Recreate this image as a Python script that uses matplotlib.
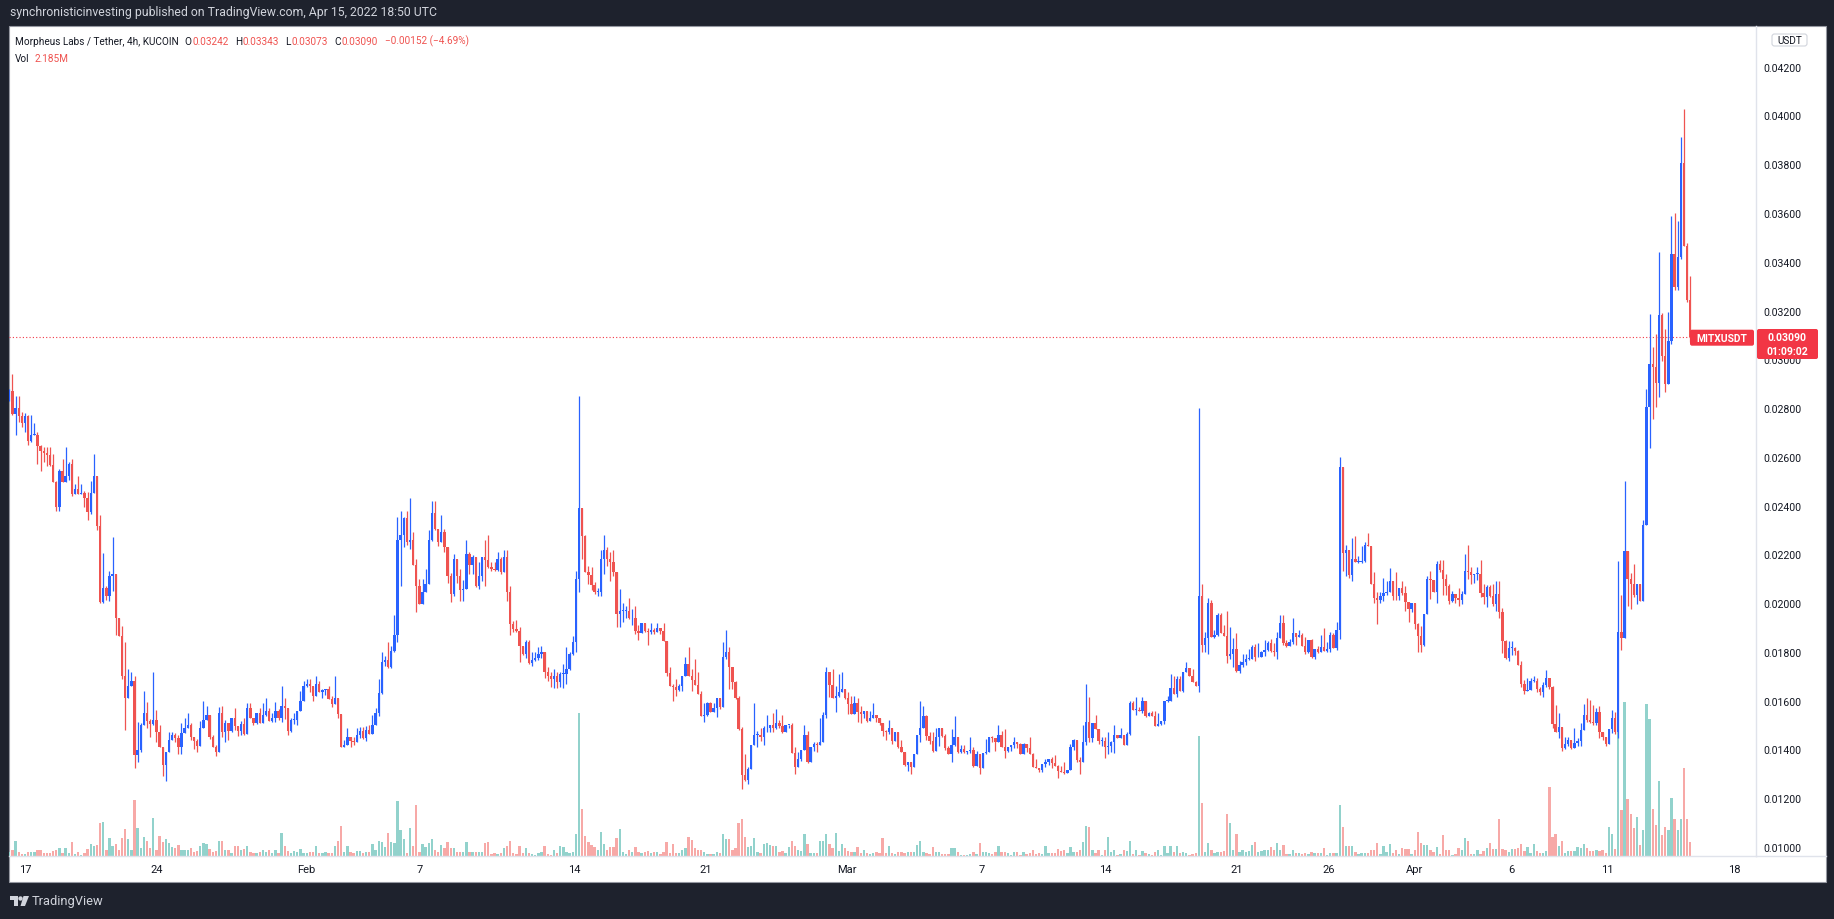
import numpy as np
import pandas as pd
import matplotlib
matplotlib.use('Agg')
import matplotlib.pyplot as plt
import matplotlib.dates as mdates
from matplotlib.patches import Rectangle, FancyBboxPatch, Polygon, Circle
from matplotlib.lines import Line2D
from matplotlib.transforms import IdentityTransform

plt.rcParams['font.family'] = ['Roboto', 'DejaVu Sans']

# MITX/USDT 4h candles (KuCoin), first bar Jan 16 2022 04:00 UTC
# prices in 1e-5 USDT, volume in millions
start = '2022-01-16 04:00'
first_open = 2837

close = [
    2870, 2776, 2799, 2769, 2739, 2769, 2666, 2690, 2690, 2646, 2625, 2616, 2608, 2567, 2498, 2396, 2543, 2498, 2520, 2571,
    2448, 2468, 2448, 2452, 2430, 2375, 2452, 2523, 2318, 2006, 2061, 2028, 2113, 2119, 1938, 1867, 1700, 1610, 1659, 1680,
    1377, 1399, 1500, 1550, 1518, 1504, 1522, 1470, 1409, 1336, 1391, 1440, 1459, 1446, 1409, 1467, 1487, 1500, 1450, 1436,
    1415, 1487, 1522, 1541, 1450, 1409, 1391, 1550,
    1470, 1509, 1477, 1528, 1498, 1477, 1504, 1464, 1569, 1528, 1507, 1548, 1507, 1541, 1556, 1518, 1528, 1556, 1528, 1577,
    1569, 1477, 1522, 1522, 1556, 1599, 1659, 1669, 1660, 1618, 1669, 1637, 1645, 1647, 1607, 1587, 1610, 1546, 1409, 1418,
    1450, 1436, 1429, 1459, 1477, 1446, 1481, 1463, 1500, 1550, 1632, 1760, 1765, 1737, 1805, 1870, 2259, 2279, 2348, 2250,
    2260, 2157, 2069, 1997, 2047, 2079, 2259,
    2369, 2304, 2250, 2291, 2229, 2110, 2038, 2181, 2113, 2055, 2058, 2202, 2157, 2188, 2069, 2110, 2188, 2178, 2147, 2140,
    2137, 2181, 2129, 2188, 2047, 1915, 1894, 1887, 1826, 1792, 1839, 1755, 1768, 1774, 1792, 1798, 1716, 1700, 1689, 1700,
    1678, 1709, 1709, 1730, 1792, 1839, 2099, 2389, 2277, 2129, 2115, 2075, 2047, 2047, 2181, 2218, 2181, 2167, 2129, 1956,
    1967, 1967, 1967, 1938, 1938, 1887, 1878,
    1917, 1887, 1880, 1890, 1880, 1897, 1887, 1846, 1714, 1659, 1655, 1645, 1659, 1700, 1750, 1703, 1686, 1664, 1627, 1539,
    1541, 1591, 1555, 1571, 1611, 1573, 1778, 1798, 1737, 1678, 1610, 1484, 1295, 1276, 1320, 1418, 1459, 1459, 1450, 1487,
    1487, 1500, 1487, 1508, 1497, 1470, 1500, 1500, 1385, 1327, 1361, 1399, 1459, 1347, 1409, 1422, 1418, 1430, 1541, 1716,
    1664, 1610, 1621, 1637, 1648, 1610, 1586,
    1545, 1590, 1555, 1545, 1558, 1518, 1528, 1541, 1528, 1508, 1477, 1473, 1487, 1436, 1470, 1409, 1388, 1336, 1347, 1327,
    1381, 1459, 1487, 1539, 1457, 1436, 1395, 1450, 1487, 1457, 1405, 1380, 1418, 1450, 1388, 1402, 1388, 1395, 1399, 1331,
    1381, 1322, 1385, 1391, 1450, 1446, 1429, 1459, 1409, 1395, 1410, 1418, 1429, 1422, 1381, 1422, 1405, 1381, 1327, 1322,
    1317, 1340, 1350, 1361, 1344, 1333, 1313,
    1309, 1303, 1317, 1409, 1440, 1358, 1347, 1429, 1511, 1446, 1508, 1484, 1436, 1436, 1409, 1416, 1429, 1459, 1446, 1459,
    1419, 1463, 1591, 1563, 1563, 1559, 1600, 1536, 1549, 1539, 1497, 1504, 1518, 1600, 1600, 1651, 1627, 1689, 1641, 1716,
    1733, 1703, 1678, 1662, 2028, 1828, 1859, 2001, 1860, 1869, 1951, 1878, 1867, 1782, 1792, 1812, 1723, 1746, 1757, 1771,
    1771, 1819, 1778, 1778, 1801, 1809, 1836, 1805,
    1801, 1856, 1919, 1837, 1823, 1839, 1878, 1860, 1869, 1826, 1801, 1850, 1778, 1812, 1801, 1819, 1805, 1812, 1869, 1815,
    1891, 2557, 2206, 2219, 2116, 2181, 2170, 2170, 2174, 2239, 2233, 2079, 2020, 2014, 2028, 2041, 2047, 2092, 2031, 2028,
    2061, 2042, 2006, 1976, 2001, 1914, 1867, 1829, 1956, 2099, 2096, 2044, 2161, 2137, 2099, 2072, 2010, 2038, 2020, 2014,
    2038, 2133, 2129, 2115, 2120, 2120, 2042,
    2024, 2065, 2029, 1998, 2039, 1964, 1843, 1776, 1816, 1816, 1802, 1746, 1669, 1641, 1645, 1681, 1681, 1649, 1635, 1665,
    1695, 1655, 1503, 1473, 1493, 1407, 1423, 1439, 1407, 1427, 1433, 1479, 1540, 1520, 1513, 1508, 1554, 1473, 1453, 1423,
    1483, 1527, 1473, 1883, 1857, 2214, 2099, 2079, 2033, 2079, 2008, 2321, 2806, 2982, 2968, 2901, 3180, 3014, 2897, 3075,
    3432, 3297, 3418, 3806, 3463, 3242, 3090,
]

high = [
    2880, 2940, 2851, 2851, 2785, 2780, 2772, 2772, 2739, 2700, 2650, 2640, 2640, 2640, 2611, 2500, 2550, 2591, 2639, 2580,
    2591, 2488, 2523, 2488, 2461, 2455, 2500, 2611, 2523, 2361, 2204, 2069, 2132, 2271, 2119, 1928, 1908, 1839, 1730, 1716,
    1700, 1511, 1510, 1641, 1593, 1525, 1716, 1560, 1500, 1409, 1391, 1470, 1470, 1467, 1460, 1510, 1528, 1550, 1509, 1450,
    1442, 1518, 1600, 1580, 1541, 1460, 1420, 1573,
    1577, 1520, 1509, 1530, 1569, 1498, 1518, 1529, 1590, 1590, 1528, 1548, 1569, 1590, 1611, 1569, 1550, 1596, 1566, 1659,
    1611, 1569, 1528, 1550, 1556, 1640, 1682, 1689, 1689, 1660, 1703, 1682, 1648, 1648, 1659, 1618, 1700, 1610, 1546, 1440,
    1486, 1450, 1450, 1486, 1491, 1491, 1497, 1500, 1541, 1569, 1689, 1799, 1784, 1839, 1825, 1952, 2352, 2379, 2352, 2379,
    2431, 2290, 2181, 2099, 2099, 2142, 2300,
    2420, 2420, 2304, 2361, 2306, 2229, 2123, 2202, 2181, 2140, 2093, 2259, 2208, 2198, 2181, 2170, 2188, 2259, 2280, 2168,
    2168, 2208, 2188, 2218, 2218, 2072, 1928, 1932, 1901, 1826, 1850, 1850, 1801, 1798, 1819, 1826, 1798, 1737, 1716, 1730,
    1716, 1716, 1750, 1819, 1798, 1864, 2133, 2848, 2389, 2279, 2153, 2147, 2085, 2061, 2218, 2280, 2229, 2208, 2218, 2129,
    2058, 2001, 1990, 2020, 1976, 1987, 1910,
    1917, 1917, 1897, 1917, 1897, 1917, 1897, 1917, 1846, 1737, 1669, 1689, 1669, 1700, 1778, 1819, 1730, 1771, 1716, 1641,
    1590, 1596, 1596, 1591, 1611, 1607, 1842, 1890, 1819, 1737, 1682, 1621, 1491, 1381, 1327, 1418, 1590, 1477, 1487, 1497,
    1541, 1500, 1550, 1566, 1522, 1541, 1500, 1500, 1508, 1409, 1391, 1399, 1500, 1477, 1409, 1429, 1429, 1528, 1552, 1737,
    1716, 1730, 1659, 1709, 1716, 1648, 1634,
    1621, 1621, 1610, 1577, 1558, 1558, 1558, 1590, 1541, 1531, 1508, 1481, 1521, 1473, 1470, 1470, 1440, 1388, 1347, 1339,
    1381, 1459, 1600, 1577, 1541, 1470, 1470, 1487, 1487, 1484, 1464, 1415, 1484, 1536, 1440, 1418, 1418, 1395, 1450, 1409,
    1395, 1381, 1385, 1443, 1450, 1457, 1440, 1500, 1477, 1484, 1410, 1418, 1450, 1432, 1426, 1426, 1418, 1450, 1385, 1361,
    1322, 1340, 1361, 1361, 1367, 1377, 1336,
    1331, 1350, 1317, 1422, 1443, 1429, 1371, 1500, 1669, 1614, 1508, 1541, 1484, 1450, 1450, 1470, 1436, 1500, 1459, 1487,
    1459, 1473, 1600, 1600, 1614, 1573, 1614, 1596, 1552, 1559, 1559, 1549, 1518, 1600, 1620, 1709, 1703, 1703, 1703, 1716,
    1757, 1733, 1730, 1682, 2799, 2078, 1883, 2020, 2011, 1891, 1959, 1959, 1911, 1969, 1901, 1856, 1877, 1764, 1791, 1791,
    1812, 1828, 1832, 1836, 1805, 1850, 1846, 1853,
    1836, 1883, 1952, 1952, 1850, 1853, 1938, 1878, 1891, 1878, 1860, 1850, 1853, 1812, 1826, 1870, 1897, 1839, 1880, 1878,
    1924, 2598, 2553, 2239, 2215, 2266, 2277, 2192, 2233, 2249, 2288, 2233, 2129, 2047, 2047, 2102, 2092, 2143, 2079, 2126,
    2061, 2092, 2072, 1999, 2001, 1999, 1919, 1905, 1956, 2113, 2133, 2096, 2174, 2178, 2178, 2120, 2079, 2051, 2034, 2061,
    2051, 2202, 2239, 2147, 2120, 2147, 2178,
    2079, 2073, 2075, 2079, 2089, 2089, 1979, 1849, 1843, 1843, 1822, 1806, 1762, 1685, 1695, 1695, 1701, 1695, 1655, 1675,
    1725, 1695, 1661, 1584, 1548, 1493, 1453, 1453, 1439, 1487, 1447, 1507, 1588, 1612, 1604, 1584, 1568, 1580, 1473, 1453,
    1483, 1560, 1554, 2174, 2033, 2503, 2210, 2125, 2159, 2079, 2079, 2341, 2877, 3184, 3049, 3103, 3442, 3190, 3123, 3196,
    3588, 3600, 3568, 3911, 4028, 3479, 3343,
]

low = [
    2830, 2772, 2690, 2741, 2721, 2703, 2649, 2660, 2688, 2571, 2543, 2580, 2564, 2563, 2498, 2379, 2379, 2498, 2498, 2505,
    2441, 2448, 2446, 2446, 2393, 2342, 2365, 2450, 2301, 2000, 2001, 2014, 2010, 2051, 1869, 1864, 1690, 1481, 1610, 1659,
    1323, 1350, 1390, 1500, 1490, 1453, 1500, 1430, 1409, 1292, 1272, 1391, 1440, 1430, 1381, 1381, 1467, 1487, 1440, 1402,
    1391, 1415, 1487, 1530, 1443, 1409, 1372, 1391,
    1450, 1432, 1440, 1470, 1481, 1454, 1459, 1459, 1464, 1528, 1500, 1504, 1507, 1507, 1538, 1518, 1511, 1511, 1522, 1511,
    1525, 1459, 1473, 1505, 1500, 1556, 1599, 1658, 1634, 1600, 1618, 1634, 1610, 1624, 1607, 1573, 1587, 1528, 1409, 1409,
    1418, 1409, 1418, 1429, 1446, 1443, 1436, 1463, 1463, 1500, 1539, 1628, 1743, 1733, 1733, 1799, 1842, 2072, 2229, 2238,
    2222, 2157, 1962, 1997, 1997, 2047, 2079,
    2256, 2300, 2233, 2250, 2211, 2083, 2003, 2030, 2083, 2010, 2010, 2058, 2120, 2120, 2065, 2058, 2092, 2072, 2143, 2133,
    2133, 2133, 2120, 2129, 2010, 1869, 1883, 1883, 1760, 1787, 1774, 1751, 1741, 1764, 1768, 1774, 1692, 1682, 1655, 1651,
    1651, 1655, 1651, 1668, 1727, 1787, 1801, 2044, 2181, 2127, 2079, 2055, 2038, 2031, 2031, 2119, 2154, 2092, 2113, 1901,
    1901, 1921, 1940, 1935, 1911, 1873, 1850,
    1880, 1880, 1828, 1874, 1874, 1880, 1874, 1846, 1703, 1659, 1600, 1621, 1641, 1641, 1700, 1703, 1641, 1664, 1627, 1539,
    1511, 1539, 1555, 1555, 1532, 1566, 1593, 1771, 1648, 1648, 1607, 1481, 1238, 1272, 1258, 1320, 1429, 1412, 1436, 1418,
    1473, 1473, 1473, 1484, 1487, 1467, 1473, 1487, 1385, 1299, 1327, 1354, 1409, 1344, 1358, 1395, 1388, 1418, 1436, 1527,
    1614, 1610, 1552, 1614, 1634, 1607, 1545,
    1545, 1545, 1511, 1508, 1531, 1511, 1518, 1528, 1511, 1500, 1454, 1440, 1463, 1422, 1436, 1405, 1388, 1331, 1313, 1299,
    1327, 1381, 1432, 1487, 1440, 1422, 1391, 1409, 1415, 1450, 1399, 1380, 1350, 1415, 1385, 1385, 1385, 1383, 1385, 1327,
    1336, 1299, 1327, 1381, 1395, 1429, 1395, 1429, 1409, 1364, 1388, 1395, 1405, 1405, 1381, 1381, 1391, 1381, 1327, 1322,
    1309, 1306, 1327, 1336, 1323, 1333, 1282,
    1307, 1299, 1303, 1317, 1399, 1350, 1299, 1358, 1418, 1429, 1429, 1484, 1422, 1416, 1364, 1381, 1391, 1385, 1446, 1446,
    1419, 1419, 1459, 1563, 1540, 1559, 1551, 1532, 1538, 1539, 1495, 1497, 1501, 1504, 1593, 1600, 1627, 1614, 1641, 1634,
    1716, 1703, 1675, 1662, 1634, 1798, 1798, 1791, 1860, 1856, 1867, 1878, 1867, 1755, 1771, 1737, 1719, 1714, 1737, 1747,
    1768, 1771, 1764, 1778, 1778, 1782, 1805, 1801,
    1782, 1771, 1856, 1829, 1819, 1823, 1833, 1829, 1860, 1826, 1791, 1795, 1774, 1771, 1795, 1801, 1805, 1801, 1801, 1815,
    1809, 1853, 2133, 2113, 2102, 2092, 2170, 2165, 2165, 2170, 2233, 2079, 2001, 1915, 2001, 2010, 2034, 2044, 2014, 2014,
    2014, 2034, 1969, 1924, 1965, 1894, 1801, 1801, 1823, 1956, 2017, 2044, 2001, 2129, 2034, 2034, 1997, 2006, 2001, 1987,
    1997, 2038, 2099, 2079, 2083, 2096, 2024,
    1998, 1985, 2024, 1989, 1968, 1938, 1796, 1770, 1762, 1786, 1786, 1746, 1655, 1629, 1639, 1645, 1677, 1635, 1625, 1615,
    1655, 1649, 1488, 1473, 1447, 1393, 1401, 1413, 1403, 1407, 1413, 1413, 1479, 1514, 1507, 1500, 1500, 1447, 1439, 1413,
    1423, 1467, 1463, 1447, 1806, 1857, 1988, 1978, 2026, 1998, 2008, 2008, 2321, 2635, 2756, 2806, 2847, 2994, 2867, 2897,
    3063, 3285, 3285, 3412, 3463, 3236, 3073,
]

volume = [
    0.6, 1.0, 2.3, 0.6, 0.3, 0.3, 0.7, 0.6, 0.6, 1.0, 1.0, 0.4, 0.4, 0.4, 0.8, 0.9, 1.3, 0.5, 1.3, 0.4,
    2.2, 0.3, 0.6, 0.2, 0.4, 1.1, 1.8, 1.6, 1.7, 5.1, 5.3, 1.0, 2.8, 1.6, 1.8, 1.0, 2.8, 4.2, 2.6, 1.0,
    8.8, 4.3, 1.3, 2.9, 2.3, 1.2, 5.9, 1.0, 3.1, 2.2, 2.6, 2.1, 1.4, 1.2, 1.7, 1.0, 1.0, 1.0, 1.3, 0.6,
    0.8, 1.5, 2.1, 1.8, 1.1, 0.6, 0.8, 2.3,
    2.4, 1.0, 0.9, 0.5, 1.5, 1.5, 1.0, 1.1, 1.5, 0.6, 0.4, 0.4, 0.6, 1.0, 0.6, 0.9, 0.4, 0.9, 0.5, 3.6,
    1.5, 0.8, 0.5, 0.8, 0.7, 1.1, 0.5, 0.4, 0.7, 0.7, 1.5, 0.4, 0.5, 0.7, 0.5, 0.4, 1.5, 2.4, 4.7, 0.7,
    1.5, 0.7, 0.4, 0.8, 0.8, 0.4, 0.7, 0.7, 1.8, 1.0, 2.4, 2.2, 1.4, 3.6, 2.2, 2.1, 8.6, 4.0, 2.7, 0.4,
    4.3, 1.6, 7.9, 0.7, 1.8, 1.4, 2.1,
    2.6, 1.0, 0.7, 1.7, 1.2, 2.2, 1.2, 1.2, 0.6, 0.7, 0.6, 2.2, 0.7, 0.6, 0.7, 0.7, 0.6, 2.0, 2.2, 0.3,
    0.5, 0.3, 0.5, 1.2, 1.6, 2.3, 0.5, 0.3, 1.6, 0.5, 1.2, 0.5, 0.3, 0.2, 0.5, 0.6, 1.6, 0.3, 0.2, 0.9,
    0.5, 1.6, 1.4, 0.7, 0.5, 0.7, 3.4, 22.3, 7.4, 3.1, 2.2, 1.7, 1.4, 0.9, 3.7, 1.8, 1.0, 1.4, 1.4, 2.8,
    4.2, 0.6, 0.3, 1.0, 0.6, 1.4, 0.6,
    0.4, 0.6, 0.8, 0.5, 0.6, 0.6, 0.3, 0.6, 2.2, 0.5, 1.9, 0.5, 0.5, 0.9, 1.2, 3.0, 2.5, 1.2, 0.9, 1.0,
    0.6, 0.3, 0.3, 0.3, 0.7, 0.5, 3.4, 2.7, 2.7, 1.0, 1.3, 5.1, 5.8, 3.0, 1.4, 1.6, 2.8, 0.7, 0.5, 1.8,
    2.1, 1.7, 1.6, 1.5, 0.6, 0.8, 0.5, 1.4, 2.3, 1.5, 0.9, 0.8, 3.5, 1.9, 0.5, 0.5, 0.4, 2.3, 2.3, 3.4,
    1.8, 1.2, 3.6, 0.8, 1.9, 1.2, 0.8,
    0.6, 0.6, 1.4, 0.5, 0.9, 0.4, 0.3, 0.5, 0.7, 0.4, 2.8, 0.4, 1.6, 0.4, 0.3, 0.6, 0.6, 0.4, 0.6, 0.6,
    0.6, 1.7, 2.3, 0.7, 0.4, 0.3, 1.4, 0.6, 0.6, 0.3, 0.3, 0.3, 1.2, 1.2, 0.6, 0.2, 0.2, 0.2, 0.3, 0.7,
    0.3, 2.1, 0.7, 0.6, 0.4, 0.3, 0.6, 1.5, 0.6, 0.7, 0.4, 0.2, 0.7, 0.7, 0.2, 0.7, 0.3, 0.4, 1.0, 0.3,
    0.4, 0.3, 1.5, 0.4, 0.4, 0.4, 1.1,
    0.8, 0.9, 0.4, 1.4, 0.6, 0.6, 0.9, 2.2, 4.7, 4.5, 1.0, 0.4, 1.0, 0.1, 1.0, 2.9, 0.6, 1.0, 0.1, 0.3,
    1.0, 0.8, 2.3, 0.3, 0.9, 0.1, 0.8, 0.5, 0.3, 0.1, 0.7, 0.9, 0.1, 1.6, 0.5, 1.6, 0.6, 1.6, 0.5, 0.6,
    0.5, 0.2, 0.3, 0.5, 18.7, 8.2, 0.7, 2.0, 0.9, 0.5, 0.7, 0.6, 0.8, 6.5, 5.1, 1.0, 3.4, 0.6, 1.0, 0.6,
    0.8, 1.7, 2.2, 0.6, 0.8, 1.0, 0.9, 1.4,
    1.0, 2.0, 1.0, 1.7, 0.3, 0.3, 0.9, 0.5, 0.4, 0.3, 0.4, 0.3, 0.7, 0.4, 0.5, 0.5, 1.2, 0.1, 0.5, 0.5,
    0.5, 7.9, 4.5, 1.6, 1.6, 1.6, 0.7, 0.3, 0.5, 0.4, 0.5, 1.0, 0.9, 2.1, 0.3, 1.5, 0.7, 1.8, 0.4, 1.0,
    0.3, 1.2, 1.1, 1.1, 0.3, 0.9, 3.8, 2.1, 1.7, 1.7, 0.9, 0.7, 1.4, 0.3, 3.2, 1.0, 0.9, 0.1, 0.3, 1.2,
    0.9, 2.8, 2.3, 0.3, 0.3, 0.9, 0.3,
    0.8, 1.3, 2.1, 1.1, 1.1, 5.8, 1.1, 0.9, 0.7, 1.1, 1.1, 1.2, 1.9, 0.8, 1.4, 0.5, 1.8, 0.8, 0.5, 0.5,
    0.8, 10.8, 2.9, 3.4, 1.5, 2.3, 0.4, 0.8, 0.8, 0.8, 1.4, 1.2, 1.8, 1.3, 0.8, 0.8, 1.0, 0.8, 1.0, 0.4,
    4.5, 3.5, 1.1, 20.1, 7.2, 24.1, 8.9, 6.6, 4.3, 6.1, 1.7, 4.0, 23.7, 21.3, 7.4, 4.8, 11.7, 3.2, 4.5, 4.0,
    9.1, 5.7, 4.0, 5.8, 13.7, 5.8, 2.185,
]

# time scale labels; where they sit on the bar axis (bar number from the first candle),
# read off the reference time scale
tick_labels = ['17', '24', 'Feb', '7', '14', '21', 'Mar', '7', '14', '21', '26', 'Apr', '6', '11', '18']
tick_bars = [5.0, 47.0, 95.0, 131.0, 180.5, 222.5, 267.5, 310.5, 350.0, 392.0, 421.5, 449.0, 480.0, 510.5, 551.0]
price_ticks = [0.010, 0.012, 0.014, 0.016, 0.018, 0.020, 0.022, 0.024, 0.026, 0.028,
               0.030, 0.032, 0.034, 0.036, 0.038, 0.040, 0.042]

UP = '#2962ff'
DOWN = '#ef5350'
VOL_UP = '#92d2cc'
VOL_DOWN = '#f7a9a7'
TEXT = '#131722'
LABEL_RED = '#f23645'
BG = '#1e222d'

# arrays
c = np.array(close) / 1e5
o = np.concatenate([[first_open / 1e5], c[:-1]])
hi = np.maximum(np.array(high) / 1e5, np.maximum(o, c))
lo = np.minimum(np.array(low) / 1e5, np.minimum(o, c))
vol = np.array(volume)
n = len(c)
t = mdates.date2num(pd.date_range(start, periods=n, freq='4h').to_pydatetime())
step = 4 / 24
up = c >= o

W, H = 1834, 920
def fx(x):
    return x / W
def fy(y):
    return 1 - y / H
ident = IdentityTransform()

fig = plt.figure(figsize=(W / 100, H / 100), dpi=100, facecolor=BG)
renderer = fig.canvas.get_renderer()

# white chart panel
fig.patches.append(Rectangle((fx(9), fy(883)), (1826 - 9) / W, (883 - 27) / H,
                             transform=fig.transFigure, facecolor='white',
                             edgecolor='#9598a1', lw=0.8, zorder=-10))

rect = [fx(9), fy(857), (1756 - 9) / W, (857 - 27) / H]
axv = fig.add_axes(rect)
ax = fig.add_axes(rect)
for a in (axv, ax):
    a.set_facecolor('none')
    a.set_xlim(t[0] - 0.1 * step, t[0] + 558 * step)

# volume
axv.bar(t, vol, width=0.75 * step, color=np.where(up, VOL_UP, VOL_DOWN), linewidth=0)
axv.set_ylim(0, 129.5)
axv.axis('off')

# candles
cols = np.where(up, UP, DOWN)
ax.vlines(t, lo, hi, colors=cols, lw=0.9, zorder=2)
body = np.maximum(np.abs(c - o), 0.00003)
ax.bar(t, body, bottom=np.minimum(o, c), width=0.75 * step, color=cols, linewidth=0, zorder=3)
ax.set_ylim(0.00963, 0.04367)

ax.axhline(c[-1], color=LABEL_RED, lw=0.8, ls=(0, (1, 2)), zorder=1)

for s in ('top', 'left'):
    ax.spines[s].set_visible(False)
for s in ('right', 'bottom'):
    ax.spines[s].set_color('#e0e3eb')
    ax.spines[s].set_linewidth(1)

ax.set_xticks([t[0] + b * step for b in tick_bars])
ax.set_xticklabels(tick_labels)
ax.tick_params(axis='x', length=0, pad=6, labelsize=8, colors=TEXT)
ax.yaxis.tick_right()
ax.set_yticks(price_ticks)
ax.set_yticklabels([f'{p:.5f}' for p in price_ticks])
ax.tick_params(axis='y', length=0, pad=5, labelsize=7.6, colors=TEXT)

# time axis separator continues under the price scale
fig.add_artist(Line2D([1756, 1826], [H - 857, H - 857], color='#e0e3eb', lw=1, transform=ident))

# header and footer
fig.text(10, H - 13, 'synchronisticinvesting published on TradingView.com, Apr 15, 2022 18:50 UTC',
         transform=ident, color='#d1d4dc', fontsize=8.8, va='center', ha='left')
fig.add_artist(Polygon([(10, H - 897), (18, H - 897), (18, H - 907), (14, H - 907), (14, H - 901), (10, H - 901)],
                       closed=True, transform=ident, facecolor='#d1d4dc', lw=0))
fig.add_artist(Circle((20.5, H - 899.5), 2.2, transform=ident, facecolor='#d1d4dc', lw=0))
fig.add_artist(Polygon([(23.5, H - 897), (29, H - 897), (25, H - 907), (20.5, H - 907)],
                       closed=True, transform=ident, facecolor='#d1d4dc', lw=0))
fig.text(32, H - 902, 'TradingView', transform=ident, color='#d1d4dc', fontsize=9.3,
         va='center', ha='left')

# legend, pieces chained left to right
o_last, h_last, l_last, c_last = o[-1], hi[-1], lo[-1], c[-1]
chg = c_last - o_last
pieces = [
    ('Morpheus Labs / Tether, 4h, KUCOIN', TEXT, 6),
    ('O', TEXT, 0.5), (f'{o_last:.5f}', DOWN, 6.5),
    ('H', TEXT, 0.5), (f'{h_last:.5f}', DOWN, 6.5),
    ('L', TEXT, 0.5), (f'{l_last:.5f}', DOWN, 6.5),
    ('C', TEXT, 0.5), (f'{c_last:.5f}', DOWN, 7),
    (f'{chg:.5f} ({chg / o_last * 100:.2f}%)'.replace('-', '\u2212'), DOWN, 0),
]
x = 15
for s, col, gap in pieces:
    txt = fig.text(x, H - 41.7, s, transform=ident, color=col, fontsize=7.2, va='center', ha='left')
    x += txt.get_window_extent(renderer).width + gap
fig.text(15, H - 59, 'Vol', transform=ident, color=TEXT, fontsize=7.2, va='center', ha='left')
fig.text(35, H - 59, f'{vol[-1]:.3f}M', transform=ident, color=DOWN, fontsize=7.2, va='center', ha='left')

# USDT box
fig.add_artist(FancyBboxPatch((1772, H - 47), 35, 12, boxstyle='round,pad=0,rounding_size=2.5',
                              transform=ident, facecolor='white', edgecolor='#d1d4dc', lw=0.8))
fig.text(1789.5, H - 41, 'USDT', transform=ident, color=TEXT, fontsize=7.2, va='center', ha='center')

# last price labels
fig.add_artist(FancyBboxPatch((1690, H - 346.7), 64, 16, boxstyle='round,pad=0,rounding_size=2',
                              transform=ident, facecolor=LABEL_RED, lw=0, zorder=5))
fig.text(1722, H - 338.7, 'MITXUSDT', transform=ident, color='white', fontsize=7.4,
         fontweight='bold', va='center', ha='center', zorder=6)
fig.add_artist(FancyBboxPatch((1757, H - 360), 61, 30, boxstyle='round,pad=0,rounding_size=2',
                              transform=ident, facecolor=LABEL_RED, lw=0, zorder=5))
fig.text(1787, H - 338.5, f'{c_last:.5f}', transform=ident, color='white', fontsize=7.6,
         fontweight='bold', va='center', ha='center', zorder=6)
fig.text(1787, H - 352.3, '01:09:02', transform=ident, color='white', fontsize=7.6,
         fontweight='bold', va='center', ha='center', zorder=6)

fig.savefig('out.png', dpi=100, facecolor=BG)
